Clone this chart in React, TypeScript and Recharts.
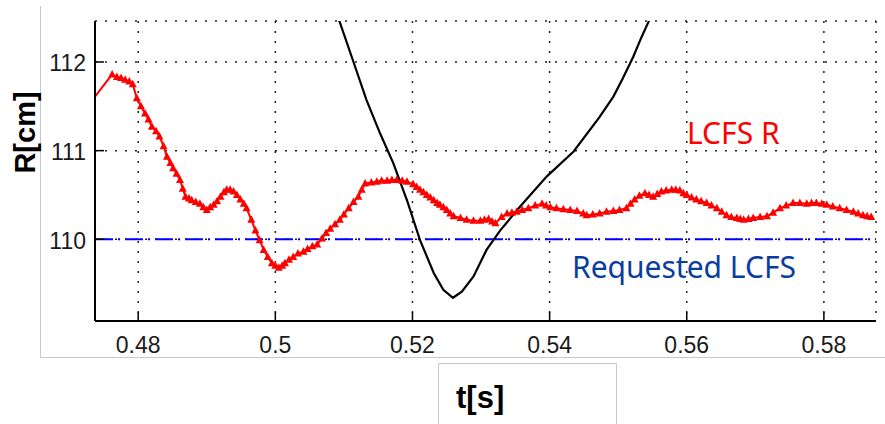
import React from "react";
import { LineChart, Line, XAxis, YAxis, CartesianGrid, ReferenceLine } from "recharts";

// LCFS R (red, triangle markers)
const lcfsT = [
  0.473, 0.4762, 0.4769, 0.4775, 0.4781, 0.4787, 0.4792, 0.4798, 0.4804, 0.481,
  0.4815, 0.482, 0.4826, 0.4831, 0.4837, 0.4842, 0.4847, 0.4851, 0.4856, 0.4861,
  0.4865, 0.4869, 0.4874, 0.4878, 0.4884, 0.489, 0.4895, 0.49, 0.4905, 0.491,
  0.4915, 0.492, 0.4925, 0.4929, 0.4934, 0.4939, 0.4944, 0.4949, 0.4954, 0.4958,
  0.4965, 0.4971, 0.4977, 0.4983, 0.4989, 0.4995, 0.5, 0.5005, 0.501, 0.5014,
  0.502, 0.5026, 0.5033, 0.5041, 0.5047, 0.5054, 0.5061, 0.5068, 0.5074, 0.508,
  0.5087, 0.5094, 0.51, 0.5107, 0.5114, 0.5121, 0.5126, 0.5131, 0.514, 0.5148,
  0.5155, 0.5163, 0.517, 0.5177, 0.5185, 0.5192, 0.5201, 0.5206, 0.5211, 0.5216,
  0.5221, 0.5226, 0.5231, 0.5236, 0.524, 0.5245, 0.525, 0.5255, 0.526, 0.527,
  0.5279, 0.5289, 0.5299, 0.5305, 0.5311, 0.5316, 0.5321, 0.533, 0.5338, 0.5345,
  0.5352, 0.536, 0.5369, 0.5379, 0.5389, 0.5395, 0.5401, 0.541, 0.542, 0.543,
  0.544, 0.5449, 0.5454, 0.5463, 0.5473, 0.5483, 0.5493, 0.5502, 0.5512, 0.5518,
  0.5524, 0.5531, 0.5539, 0.5545, 0.5551, 0.5557, 0.5563, 0.557, 0.5578, 0.5584,
  0.559, 0.5595, 0.56, 0.5607, 0.5614, 0.5621, 0.5629, 0.5636, 0.5644, 0.5651,
  0.5658, 0.5665, 0.5673, 0.5678, 0.5683, 0.569, 0.5697, 0.5707, 0.5717, 0.5726,
  0.5736, 0.5745, 0.5755, 0.5765, 0.5775, 0.5782, 0.5789, 0.5797, 0.5804, 0.5813,
  0.5823, 0.5833, 0.5843, 0.585, 0.5857, 0.5863, 0.5869,
];
const lcfsR = [
  111.54, 111.86, 111.83, 111.82, 111.8, 111.78, 111.75, 111.59, 111.5, 111.42,
  111.35, 111.27, 111.22, 111.16, 111.05, 110.93, 110.86, 110.8, 110.74, 110.67,
  110.57, 110.48, 110.46, 110.44, 110.42, 110.4, 110.36, 110.33, 110.36, 110.39,
  110.43, 110.48, 110.53, 110.56, 110.56, 110.54, 110.5, 110.45, 110.4, 110.35,
  110.22, 110.1, 109.99, 109.88, 109.8, 109.73, 109.7, 109.68, 109.7, 109.73,
  109.77, 109.8, 109.84, 109.86, 109.89, 109.92, 109.94, 110.01, 110.07, 110.12,
  110.17, 110.22, 110.28, 110.35, 110.42, 110.48, 110.56, 110.63, 110.64, 110.65,
  110.66, 110.66, 110.67, 110.67, 110.66, 110.65, 110.62, 110.59, 110.56, 110.53,
  110.5, 110.47, 110.44, 110.41, 110.39, 110.36, 110.33, 110.29, 110.26, 110.24,
  110.22, 110.21, 110.21, 110.22, 110.23, 110.2, 110.18, 110.25, 110.29, 110.3,
  110.31, 110.33, 110.35, 110.38, 110.4, 110.38, 110.36, 110.35, 110.34, 110.33,
  110.32, 110.29, 110.27, 110.28, 110.29, 110.31, 110.32, 110.33, 110.35, 110.4,
  110.45, 110.49, 110.52, 110.5, 110.48, 110.51, 110.54, 110.55, 110.56, 110.56,
  110.55, 110.52, 110.5, 110.47, 110.45, 110.43, 110.41, 110.38, 110.35, 110.31,
  110.27, 110.25, 110.24, 110.23, 110.22, 110.23, 110.24, 110.25, 110.26, 110.3,
  110.35, 110.38, 110.41, 110.41, 110.4, 110.41, 110.41, 110.4, 110.39, 110.37,
  110.35, 110.33, 110.31, 110.29, 110.27, 110.26, 110.25,
];

// black curve
const blackT = [
  0.5085, 0.5094, 0.5114, 0.5133, 0.5153, 0.5172, 0.5192, 0.5211, 0.5231, 0.5245,
  0.5259, 0.5272, 0.5289, 0.5308, 0.5328, 0.5357, 0.5396, 0.5435, 0.5473, 0.5493,
  0.5507, 0.5522, 0.5534, 0.5544, 0.555,
];
const blackR = [
  112.6, 112.45, 112.0, 111.57, 111.19, 110.86, 110.44, 109.99, 109.62, 109.43,
  109.34, 109.41, 109.58, 109.88, 110.1, 110.37, 110.71, 110.99, 111.38, 111.61,
  111.82, 112.06, 112.28, 112.45, 112.56,
];

const requested = 110;
const xTicks = [0.48, 0.5, 0.52, 0.54, 0.56, 0.58];
const yTicks = [110, 111, 112];

const lcfsData = lcfsT.map((t, i) => ({ t, r: lcfsR[i] }));
const blackData = blackT.map((t, i) => ({ t, r: blackR[i] }));

const tickFont = { fontFamily: "'Liberation Sans', Arial, sans-serif", fontSize: 23, fill: "#1a1a1a" };

const XTick = (props: any) => {
  const { x, y, payload } = props;
  return (
    <g>
      <line x1={x} y1={y} x2={x} y2={y - 9} stroke="#000" strokeWidth={1.5} />
      <text x={x} y={y + 32} textAnchor="middle" {...tickFont}>
        {String(Number(payload.value.toFixed(2)))}
      </text>
    </g>
  );
};

const YTick = (props: any) => {
  const { x, y, payload } = props;
  return (
    <g>
      <line x1={x} y1={y} x2={x + 9} y2={y} stroke="#000" strokeWidth={1.5} />
      <text x={x - 9} y={y + 9.5} textAnchor="end" {...tickFont}>
        {payload.value}
      </text>
    </g>
  );
};

const renderTri = (p: any) => {
  const { cx, cy, index } = p;
  if (cx == null || cy == null) return <g key={index} />;
  return (
    <polygon
      key={index}
      points={`${cx},${cy - 4.5} ${cx - 4},${cy + 3} ${cx + 4},${cy + 3}`}
      fill="#ff0000"
      stroke="none"
    />
  );
};

export default function App() {
  return (
    <div style={{ position: "absolute", left: 0, top: 0, width: 885, height: 424, background: "#fff" }}>
      <LineChart width={885} height={424} margin={{ top: 21, right: 9, bottom: 0, left: 0 }}>
        <CartesianGrid stroke="#222" strokeDasharray="2 8" strokeWidth={1.5} />
        <XAxis
          type="number"
          dataKey="t"
          domain={[0.4737, 0.5876]}
          allowDataOverflow
          ticks={xTicks}
          height={103}
          tickSize={0}
          tickMargin={0}
          tickLine={false}
          axisLine={{ stroke: "#000", strokeWidth: 2 }}
          tick={<XTick />}
        />
        <YAxis
          type="number"
          domain={[109.078, 112.4625]}
          allowDataOverflow
          ticks={yTicks}
          width={95}
          tickSize={0}
          tickMargin={0}
          tickLine={false}
          axisLine={{ stroke: "#000", strokeWidth: 2 }}
          tick={<YTick />}
        />
        <ReferenceLine y={requested} stroke="#0000ff" strokeWidth={2} strokeDasharray="18 5 2 5" />
        <Line
          data={lcfsData}
          dataKey="r"
          type="linear"
          stroke="#ff0000"
          strokeWidth={2}
          dot={renderTri}
          activeDot={false}
          isAnimationActive={false}
        />
        <Line
          data={blackData}
          dataKey="r"
          type="linear"
          stroke="#000"
          strokeWidth={2.2}
          dot={false}
          activeDot={false}
          isAnimationActive={false}
        />
      </LineChart>
      <svg
        width={885}
        height={424}
        style={{ position: "absolute", left: 0, top: 0, pointerEvents: "none" }}
      >
        <line x1={40.5} y1={6} x2={40.5} y2={357.5} stroke="#c8c8c8" strokeWidth={1} />
        <line x1={40} y1={357.5} x2={885} y2={357.5} stroke="#c8c8c8" strokeWidth={1} />
        <polyline points="438.5,424 438.5,363.5 616.5,363.5 616.5,424" fill="none" stroke="#c8c8c8" strokeWidth={1} />
        <text
          x={34.5}
          y={132.5}
          transform="rotate(-90 34.5 132.5)"
          textAnchor="middle"
          fontFamily="'Liberation Sans', Arial, sans-serif"
          fontWeight="bold"
          fontSize={29}
          fill="#000"
        >
          R[cm]
        </text>
        <text
          x={456}
          y={407.5}
          fontFamily="'Liberation Sans', Arial, sans-serif"
          fontWeight="bold"
          fontSize={31}
          fill="#000"
        >
          t[s]
        </text>
        <text x={687} y={144} fontFamily="'Noto Sans', sans-serif" fontSize={30} fill="#ff0000">
          LCFS R
        </text>
        <text x={572} y={278} fontFamily="'Noto Sans', sans-serif" fontSize={30} fill="#0b3d9f">
          Requested LCFS
        </text>
      </svg>
    </div>
  );
}
